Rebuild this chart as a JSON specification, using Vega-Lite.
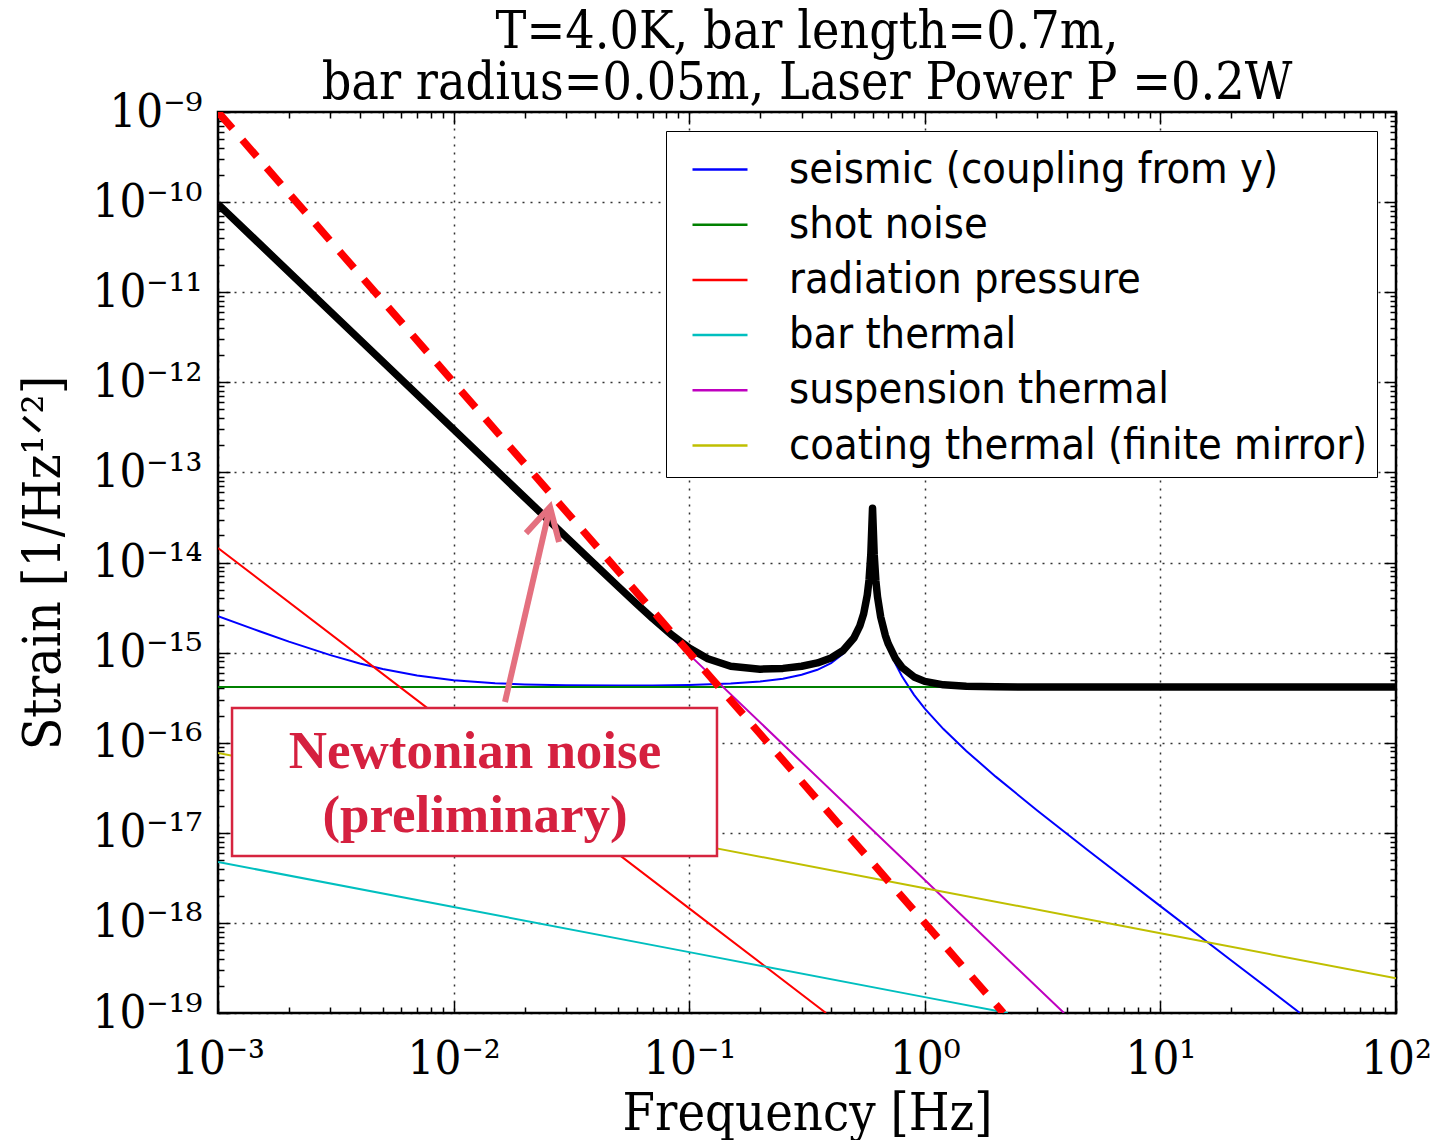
{
  "$schema": "https://vega.github.io/schema/vega-lite/v6.json",
  "width": 1178,
  "height": 901,
  "autosize": {"type": "none"},
  "padding": {"left": 218, "top": 112, "right": 43, "bottom": 127},
  "background": "white",
  "config": {
    "view": {"stroke": "black", "strokeWidth": 2.5},
    "font": "DejaVu Serif Condensed, DejaVu Serif"
  },
  "title": {
    "text": ["T=4.0K, bar length=0.7m,", "bar radius=0.05m, Laser Power P =0.2W"],
    "font": "DejaVu Serif Condensed, DejaVu Serif",
    "fontSize": 51.5,
    "fontWeight": "normal",
    "color": "black",
    "anchor": "middle",
    "frame": "group",
    "baseline": "bottom",
    "offset": -73,
    "lineHeight": 51
  },
  "datasets": {
    "curves": [
      {"name": "seismic (coupling from y)", "f": 0.001, "h": 2.543e-15},
      {"name": "seismic (coupling from y)", "f": 0.0015, "h": 1.725e-15},
      {"name": "seismic (coupling from y)", "f": 0.002, "h": 1.324e-15},
      {"name": "seismic (coupling from y)", "f": 0.003, "h": 9.38e-16},
      {"name": "seismic (coupling from y)", "f": 0.004, "h": 7.57e-16},
      {"name": "seismic (coupling from y)", "f": 0.005, "h": 6.57e-16},
      {"name": "seismic (coupling from y)", "f": 0.007, "h": 5.56e-16},
      {"name": "seismic (coupling from y)", "f": 0.01, "h": 4.93e-16},
      {"name": "seismic (coupling from y)", "f": 0.015, "h": 4.57e-16},
      {"name": "seismic (coupling from y)", "f": 0.02, "h": 4.43e-16},
      {"name": "seismic (coupling from y)", "f": 0.03, "h": 4.33e-16},
      {"name": "seismic (coupling from y)", "f": 0.05, "h": 4.31e-16},
      {"name": "seismic (coupling from y)", "f": 0.07, "h": 4.32e-16},
      {"name": "seismic (coupling from y)", "f": 0.1, "h": 4.38e-16},
      {"name": "seismic (coupling from y)", "f": 0.15, "h": 4.54e-16},
      {"name": "seismic (coupling from y)", "f": 0.2, "h": 4.78e-16},
      {"name": "seismic (coupling from y)", "f": 0.25, "h": 5.14e-16},
      {"name": "seismic (coupling from y)", "f": 0.3, "h": 5.67e-16},
      {"name": "seismic (coupling from y)", "f": 0.35, "h": 6.44e-16},
      {"name": "seismic (coupling from y)", "f": 0.4, "h": 7.65e-16},
      {"name": "seismic (coupling from y)", "f": 0.45, "h": 9.71e-16},
      {"name": "seismic (coupling from y)", "f": 0.5, "h": 1.391e-15},
      {"name": "seismic (coupling from y)", "f": 0.53, "h": 1.935e-15},
      {"name": "seismic (coupling from y)", "f": 0.55, "h": 2.657e-15},
      {"name": "seismic (coupling from y)", "f": 0.57, "h": 4.339e-15},
      {"name": "seismic (coupling from y)", "f": 0.58, "h": 6.409e-15},
      {"name": "seismic (coupling from y)", "f": 0.59, "h": 1.231e-14},
      {"name": "seismic (coupling from y)", "f": 0.6, "h": 4.0e-14},
      {"name": "seismic (coupling from y)", "f": 0.61, "h": 1.21e-14},
      {"name": "seismic (coupling from y)", "f": 0.62, "h": 6.2e-15},
      {"name": "seismic (coupling from y)", "f": 0.63, "h": 4.125e-15},
      {"name": "seismic (coupling from y)", "f": 0.65, "h": 2.448e-15},
      {"name": "seismic (coupling from y)", "f": 0.68, "h": 1.494e-15},
      {"name": "seismic (coupling from y)", "f": 0.7, "h": 1.177e-15},
      {"name": "seismic (coupling from y)", "f": 0.75, "h": 7.56e-16},
      {"name": "seismic (coupling from y)", "f": 0.8, "h": 5.46e-16},
      {"name": "seismic (coupling from y)", "f": 0.9, "h": 3.4e-16},
      {"name": "seismic (coupling from y)", "f": 1.0, "h": 2.39e-16},
      {"name": "seismic (coupling from y)", "f": 1.2, "h": 1.417e-16},
      {"name": "seismic (coupling from y)", "f": 1.5, "h": 8.1e-17},
      {"name": "seismic (coupling from y)", "f": 2, "h": 4.2e-17},
      {"name": "seismic (coupling from y)", "f": 3, "h": 1.77e-17},
      {"name": "seismic (coupling from y)", "f": 5, "h": 6.21e-18},
      {"name": "seismic (coupling from y)", "f": 10, "h": 1.536e-18},
      {"name": "seismic (coupling from y)", "f": 20, "h": 3.83e-19},
      {"name": "seismic (coupling from y)", "f": 39, "h": 1.006e-19},
      {"name": "shot noise", "f": 0.001, "h": 4.15e-16},
      {"name": "shot noise", "f": 1, "h": 4.15e-16},
      {"name": "shot noise", "f": 100, "h": 4.15e-16},
      {"name": "radiation pressure", "f": 0.001, "h": 1.45e-14},
      {"name": "radiation pressure", "f": 0.01, "h": 1.45e-16},
      {"name": "radiation pressure", "f": 0.1, "h": 1.45e-18},
      {"name": "radiation pressure", "f": 0.3808, "h": 1.0e-19},
      {"name": "bar thermal", "f": 0.001, "h": 4.74e-18},
      {"name": "bar thermal", "f": 0.01, "h": 1.5e-18},
      {"name": "bar thermal", "f": 0.1, "h": 4.74e-19},
      {"name": "bar thermal", "f": 1, "h": 1.5e-19},
      {"name": "bar thermal", "f": 2.25, "h": 1.0e-19},
      {"name": "suspension thermal", "f": 0.001, "h": 9.49e-11},
      {"name": "suspension thermal", "f": 0.01, "h": 3.0e-13},
      {"name": "suspension thermal", "f": 0.1, "h": 9.49e-16},
      {"name": "suspension thermal", "f": 1, "h": 3.0e-18},
      {"name": "suspension thermal", "f": 3.898, "h": 1.0e-19},
      {"name": "coating thermal (finite mirror)", "f": 0.001, "h": 7.68e-17},
      {"name": "coating thermal (finite mirror)", "f": 0.01, "h": 2.43e-17},
      {"name": "coating thermal (finite mirror)", "f": 0.1, "h": 7.68e-18},
      {"name": "coating thermal (finite mirror)", "f": 1, "h": 2.43e-18},
      {"name": "coating thermal (finite mirror)", "f": 10, "h": 7.68e-19},
      {"name": "coating thermal (finite mirror)", "f": 100, "h": 2.43e-19}
    ],
    "total": [
      {"f": 0.001, "h": 9.49e-11},
      {"f": 0.003, "h": 6.09e-12},
      {"f": 0.01, "h": 3.0e-13},
      {"f": 0.02, "h": 5.3e-14},
      {"f": 0.03, "h": 1.926e-14},
      {"f": 0.04, "h": 9.39e-15},
      {"f": 0.05, "h": 5.4e-15},
      {"f": 0.06, "h": 3.45e-15},
      {"f": 0.07, "h": 2.39e-15},
      {"f": 0.085, "h": 1.546e-15},
      {"f": 0.1, "h": 1.124e-15},
      {"f": 0.12, "h": 8.55e-16},
      {"f": 0.15, "h": 7.05e-16},
      {"f": 0.2, "h": 6.55e-16},
      {"f": 0.25, "h": 6.68e-16},
      {"f": 0.3, "h": 7.05e-16},
      {"f": 0.35, "h": 7.68e-16},
      {"f": 0.4, "h": 8.71e-16},
      {"f": 0.45, "h": 1.056e-15},
      {"f": 0.5, "h": 1.452e-15},
      {"f": 0.53, "h": 1.979e-15},
      {"f": 0.55, "h": 2.689e-15},
      {"f": 0.57, "h": 4.359e-15},
      {"f": 0.58, "h": 6.42e-15},
      {"f": 0.59, "h": 1.232e-14},
      {"f": 0.6, "h": 4.0e-14},
      {"f": 0.61, "h": 1.211e-14},
      {"f": 0.62, "h": 6.22e-15},
      {"f": 0.63, "h": 4.15e-15},
      {"f": 0.65, "h": 2.48e-15},
      {"f": 0.68, "h": 1.551e-15},
      {"f": 0.7, "h": 1.248e-15},
      {"f": 0.75, "h": 8.62e-16},
      {"f": 0.8, "h": 6.86e-16},
      {"f": 0.9, "h": 5.37e-16},
      {"f": 1.0, "h": 4.79e-16},
      {"f": 1.2, "h": 4.39e-16},
      {"f": 1.5, "h": 4.23e-16},
      {"f": 2, "h": 4.17e-16},
      {"f": 3, "h": 4.155e-16},
      {"f": 5, "h": 4.15e-16},
      {"f": 100, "h": 4.15e-16}
    ],
    "newton": [
      {"f": 0.001, "h": 1e-9},
      {"f": 0.01, "h": 1e-12},
      {"f": 0.1, "h": 1e-15},
      {"f": 1, "h": 1e-18},
      {"f": 2.154, "h": 1.0e-19}
    ],
    "box": [
      {"f1": 0.001147, "f2": 0.1312, "h1": 2.43e-16, "h2": 5.53e-18}
    ],
    "notes": [
      {"label": "Newtonian noise", "f": 0.012325, "h": 5.24e-17},
      {"label": "(preliminary)", "f": 0.012325, "h": 1.02e-17}
    ],
    "arrow": [
      {"part": "shaft", "f": 0.016525, "h": 2.83e-16},
      {"part": "shaft", "f": 0.025655, "h": 4.13e-14},
      {"part": "head", "f": 0.02029, "h": 2.12e-14},
      {"part": "head", "f": 0.025655, "h": 4.13e-14},
      {"part": "head", "f": 0.02802, "h": 1.69e-14}
    ]
  },
  "layer": [
    {
      "data": {"name": "curves"},
      "mark": {"type": "line", "strokeWidth": 2, "clip": true},
      "encoding": {
        "x": {
          "field": "f", "type": "quantitative",
          "scale": {"type": "log", "domain": [0.001, 100], "nice": false},
          "axis": {
            "orient": "bottom",
            "values": [0.001,0.002,0.003,0.004,0.005,0.006,0.007,0.008,0.009,0.01,0.02,0.03,0.04,0.05,0.06,0.07,0.08,0.09,0.1,0.2,0.3,0.4,0.5,0.6,0.7,0.8,0.9,1,2,3,4,5,6,7,8,9,10,20,30,40,50,60,70,80,90,100],
            "labelExpr": "datum.value == 0.001 ? '10⁻³' : datum.value == 0.01 ? '10⁻²' : datum.value == 0.1 ? '10⁻¹' : datum.value == 1 ? '10⁰' : datum.value == 10 ? '10¹' : datum.value == 100 ? '10²' : ''",
            "labelFont": "DejaVu Serif Condensed, DejaVu Serif",
            "labelFontSize": 47,
            "labelColor": "black",
            "labelPadding": 35,
            "labelBaseline": "top",
            "labelOverlap": false,
            "labelFlush": false,
            "domain": false,
            "tickColor": "black",
            "tickWidth": 1.5,
            "tickSize": {"condition": {"test": "abs(log(datum.value)/LN10 - round(log(datum.value)/LN10)) < 0.000001", "value": -12}, "value": -6},
            "grid": true,
            "gridColor": "#000000",
            "gridDash": [2, 6],
            "gridWidth": 1.5,
            "gridOpacity": {"condition": {"test": "abs(log(datum.value)/LN10 - round(log(datum.value)/LN10)) < 0.000001", "value": 0.8}, "value": 0},
            "title": "Frequency [Hz]",
            "titleFont": "DejaVu Serif Condensed, DejaVu Serif",
            "titleFontSize": 52,
            "titleFontWeight": "normal",
            "titleColor": "black",
            "titlePadding": 0
          }
        },
        "y": {
          "field": "h", "type": "quantitative",
          "scale": {"type": "log", "domain": [1e-19, 1e-9], "nice": false},
          "axis": {
            "orient": "left",
            "values": [1e-19,2e-19,3e-19,4e-19,5e-19,6e-19,7e-19,8e-19,9e-19,1e-18,2e-18,3e-18,4e-18,5e-18,6e-18,7e-18,8e-18,9e-18,1e-17,2e-17,3e-17,4e-17,5e-17,6e-17,7e-17,8e-17,9e-17,1e-16,2e-16,3e-16,4e-16,5e-16,6e-16,7e-16,8e-16,9e-16,1e-15,2e-15,3e-15,4e-15,5e-15,6e-15,7e-15,8e-15,9e-15,1e-14,2e-14,3e-14,4e-14,5e-14,6e-14,7e-14,8e-14,9e-14,1e-13,2e-13,3e-13,4e-13,5e-13,6e-13,7e-13,8e-13,9e-13,1e-12,2e-12,3e-12,4e-12,5e-12,6e-12,7e-12,8e-12,9e-12,1e-11,2e-11,3e-11,4e-11,5e-11,6e-11,7e-11,8e-11,9e-11,1e-10,2e-10,3e-10,4e-10,5e-10,6e-10,7e-10,8e-10,9e-10,1e-9],
            "labelExpr": "datum.value == 1e-9 ? '10⁻⁹' : datum.value == 1e-10 ? '10⁻¹⁰' : datum.value == 1e-11 ? '10⁻¹¹' : datum.value == 1e-12 ? '10⁻¹²' : datum.value == 1e-13 ? '10⁻¹³' : datum.value == 1e-14 ? '10⁻¹⁴' : datum.value == 1e-15 ? '10⁻¹⁵' : datum.value == 1e-16 ? '10⁻¹⁶' : datum.value == 1e-17 ? '10⁻¹⁷' : datum.value == 1e-18 ? '10⁻¹⁸' : datum.value == 1e-19 ? '10⁻¹⁹' : ''",
            "labelFont": "DejaVu Serif Condensed, DejaVu Serif",
            "labelFontSize": 47,
            "labelColor": "black",
            "labelPadding": 28,
            "labelOverlap": false,
            "labelFlush": false,
            "domain": false,
            "tickColor": "black",
            "tickWidth": 1.5,
            "tickSize": {"condition": {"test": "abs(log(datum.value)/LN10 - round(log(datum.value)/LN10)) < 0.000001", "value": -12}, "value": -6},
            "grid": true,
            "gridColor": "#000000",
            "gridDash": [2, 6],
            "gridWidth": 1.5,
            "gridOpacity": {"condition": {"test": "abs(log(datum.value)/LN10 - round(log(datum.value)/LN10)) < 0.000001", "value": 0.8}, "value": 0},
            "title": "Strain [1/Hz¹ᐟ²]",
            "titleFont": "DejaVu Serif Condensed, DejaVu Serif",
            "titleFontSize": 53,
            "titleFontWeight": "normal",
            "titleColor": "black",
            "titlePadding": 22
          }
        },
        "color": {
          "field": "name", "type": "nominal",
          "scale": {
            "domain": ["seismic (coupling from y)", "shot noise", "radiation pressure", "bar thermal", "suspension thermal", "coating thermal (finite mirror)"],
            "range": ["#0000ff", "#008000", "#ff0000", "#00bfbf", "#bf00bf", "#bfbf00"]
          },
          "legend": {
            "orient": "top-right",
            "offset": 19,
            "title": null,
            "symbolType": "stroke",
            "symbolStrokeWidth": 2.5,
            "symbolSize": 3025,
            "labelFont": "DejaVu Sans Condensed, DejaVu Sans",
            "labelFontSize": 43,
            "labelColor": "black",
            "labelOffset": 40,
            "labelLimit": 1000,
            "symbolOffset": 15.5,
            "padding": 9.5,
            "rowPadding": 4.2,
            "fillColor": "white",
            "strokeColor": "black"
          }
        }
      }
    },
    {
      "data": {"name": "total"},
      "mark": {"type": "line", "color": "black", "strokeWidth": 7.5, "strokeJoin": "round", "clip": true},
      "encoding": {
        "x": {"field": "f", "type": "quantitative", "scale": {"type": "log", "domain": [0.001, 100], "nice": false}, "axis": null},
        "y": {"field": "h", "type": "quantitative", "scale": {"type": "log", "domain": [1e-19, 1e-9], "nice": false}, "axis": null}
      }
    },
    {
      "data": {"name": "newton"},
      "mark": {"type": "line", "color": "#ff0000", "strokeWidth": 7.5, "strokeDash": [22, 15], "clip": true},
      "encoding": {
        "x": {
          "field": "f", "type": "quantitative",
          "scale": {"type": "log", "domain": [0.001, 100], "nice": false},
          "axis": {
            "orient": "top",
            "values": [0.001,0.002,0.003,0.004,0.005,0.006,0.007,0.008,0.009,0.01,0.02,0.03,0.04,0.05,0.06,0.07,0.08,0.09,0.1,0.2,0.3,0.4,0.5,0.6,0.7,0.8,0.9,1,2,3,4,5,6,7,8,9,10,20,30,40,50,60,70,80,90,100],
            "labels": false, "title": null, "domain": false, "grid": false,
            "tickColor": "black", "tickWidth": 1.5,
            "tickSize": {"condition": {"test": "abs(log(datum.value)/LN10 - round(log(datum.value)/LN10)) < 0.000001", "value": -12}, "value": -6}
          }
        },
        "y": {
          "field": "h", "type": "quantitative",
          "scale": {"type": "log", "domain": [1e-19, 1e-9], "nice": false},
          "axis": {
            "orient": "right",
            "values": [1e-19,2e-19,3e-19,4e-19,5e-19,6e-19,7e-19,8e-19,9e-19,1e-18,2e-18,3e-18,4e-18,5e-18,6e-18,7e-18,8e-18,9e-18,1e-17,2e-17,3e-17,4e-17,5e-17,6e-17,7e-17,8e-17,9e-17,1e-16,2e-16,3e-16,4e-16,5e-16,6e-16,7e-16,8e-16,9e-16,1e-15,2e-15,3e-15,4e-15,5e-15,6e-15,7e-15,8e-15,9e-15,1e-14,2e-14,3e-14,4e-14,5e-14,6e-14,7e-14,8e-14,9e-14,1e-13,2e-13,3e-13,4e-13,5e-13,6e-13,7e-13,8e-13,9e-13,1e-12,2e-12,3e-12,4e-12,5e-12,6e-12,7e-12,8e-12,9e-12,1e-11,2e-11,3e-11,4e-11,5e-11,6e-11,7e-11,8e-11,9e-11,1e-10,2e-10,3e-10,4e-10,5e-10,6e-10,7e-10,8e-10,9e-10,1e-9],
            "labels": false, "title": null, "domain": false, "grid": false,
            "tickColor": "black", "tickWidth": 1.5,
            "tickSize": {"condition": {"test": "abs(log(datum.value)/LN10 - round(log(datum.value)/LN10)) < 0.000001", "value": -12}, "value": -6}
          }
        }
      }
    },
    {
      "data": {"name": "box"},
      "mark": {"type": "rect", "fill": "white", "stroke": "#d6243f", "strokeWidth": 2.5},
      "encoding": {
        "x": {"field": "f1", "type": "quantitative", "scale": {"type": "log", "domain": [0.001, 100], "nice": false}, "axis": null},
        "x2": {"field": "f2"},
        "y": {"field": "h1", "type": "quantitative", "scale": {"type": "log", "domain": [1e-19, 1e-9], "nice": false}, "axis": null},
        "y2": {"field": "h2"}
      }
    },
    {
      "data": {"name": "notes"},
      "mark": {"type": "text", "font": "Liberation Serif", "fontWeight": "bold", "fontSize": 53, "color": "#d5203f", "align": "center", "baseline": "alphabetic"},
      "encoding": {
        "x": {"field": "f", "type": "quantitative", "scale": {"type": "log", "domain": [0.001, 100], "nice": false}, "axis": null},
        "y": {"field": "h", "type": "quantitative", "scale": {"type": "log", "domain": [1e-19, 1e-9], "nice": false}, "axis": null},
        "text": {"field": "label"}
      }
    },
    {
      "data": {"name": "arrow"},
      "mark": {"type": "line", "color": "#e4707f", "strokeWidth": 6, "strokeJoin": "miter", "strokeCap": "butt"},
      "encoding": {
        "x": {"field": "f", "type": "quantitative", "scale": {"type": "log", "domain": [0.001, 100], "nice": false}, "axis": null},
        "y": {"field": "h", "type": "quantitative", "scale": {"type": "log", "domain": [1e-19, 1e-9], "nice": false}, "axis": null},
        "detail": {"field": "part"}
      }
    }
  ],
  "resolve": {"axis": {"x": "independent", "y": "independent"}}
}
